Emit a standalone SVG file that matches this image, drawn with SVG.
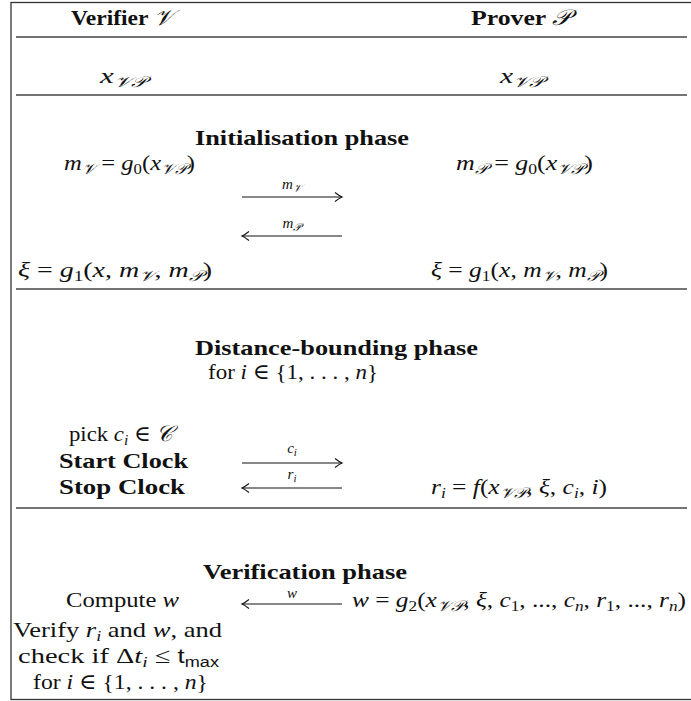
<svg xmlns="http://www.w3.org/2000/svg" width="691" height="701" viewBox="0 0 691 701">
<style>
text{font-family:"Liberation Serif","DejaVu Serif",serif;font-size:22px;fill:#111}
.b{font-weight:bold}
.i{font-style:italic}
.s{font-size:15px}
.lab{font-size:15px;font-style:italic;text-anchor:middle}
.sf{font-family:"Liberation Sans","DejaVu Sans",sans-serif;font-style:normal;font-size:20px}
.sfs{font-family:"Liberation Sans","DejaVu Sans",sans-serif;font-style:normal;font-size:14px}
.rule{stroke:#444;stroke-width:1.5}
.arr{stroke:#111;stroke-width:1;fill:none}
</style>
<defs>
<marker id="ah" markerUnits="userSpaceOnUse" markerWidth="14" markerHeight="14" viewBox="-10 -7 12 14" refX="0" refY="0" orient="auto-start-reverse">
<path d="M-7,-4.5 Q-2.5,-1 0,0 Q-2.5,1 -7,4.5" fill="none" stroke="#111" stroke-width="1.1"/>
</marker>
</defs>
<rect x="11" y="2.5" width="700" height="697" fill="none" stroke="#333" stroke-width="1.3"/>
<g id="rules">
<line class="rule" x1="16" y1="37" x2="687" y2="37"/>
<line class="rule" x1="16" y1="95" x2="687" y2="95"/>
<line class="rule" x1="16" y1="289" x2="687" y2="289"/>
<line class="rule" x1="16" y1="508" x2="687" y2="508"/>
</g>
<g id="verifier-header"><text class="b" x="71" y="25" textLength="102" lengthAdjust="spacingAndGlyphs">Verifier <tspan class="i" font-weight="normal">𝒱</tspan></text></g>
<g id="prover-header"><text class="b" x="471" y="25" textLength="100" lengthAdjust="spacingAndGlyphs">Prover <tspan class="i" font-weight="normal">𝒫</tspan></text></g>
<g id="verifier-key"><text x="100" y="83" textLength="46" lengthAdjust="spacingAndGlyphs"><tspan class="i">x</tspan><tspan class="s i" dy="4">𝒱𝒫</tspan></text></g>
<g id="prover-key"><text x="500" y="83" textLength="44" lengthAdjust="spacingAndGlyphs"><tspan class="i">x</tspan><tspan class="s i" dy="4">𝒱𝒫</tspan></text></g>
<g id="init-title"><text class="b" x="195" y="145" textLength="214" lengthAdjust="spacingAndGlyphs">Initialisation phase</text></g>
<g id="init-v"><text x="64" y="170" textLength="131" lengthAdjust="spacingAndGlyphs"><tspan class="i">m</tspan><tspan class="s i" dy="4">𝒱</tspan><tspan dy="-4"> = </tspan><tspan class="i">g</tspan><tspan class="s" dy="4">0</tspan><tspan dy="-4">(</tspan><tspan class="i">x</tspan><tspan class="s i" dy="4">𝒱𝒫</tspan><tspan dy="-4">)</tspan></text></g>
<g id="init-p"><text x="456" y="170" textLength="137" lengthAdjust="spacingAndGlyphs"><tspan class="i">m</tspan><tspan class="s i" dy="4">𝒫</tspan><tspan dy="-4"> = </tspan><tspan class="i">g</tspan><tspan class="s" dy="4">0</tspan><tspan dy="-4">(</tspan><tspan class="i">x</tspan><tspan class="s i" dy="4">𝒱𝒫</tspan><tspan dy="-4">)</tspan></text></g>
<g id="xi-v"><text x="18" y="277" textLength="194" lengthAdjust="spacingAndGlyphs"><tspan class="i">ξ</tspan> = <tspan class="i">g</tspan><tspan class="s" dy="4">1</tspan><tspan dy="-4">(</tspan><tspan class="i">x</tspan>, <tspan class="i">m</tspan><tspan class="s i" dy="4">𝒱</tspan><tspan dy="-4">, </tspan><tspan class="i">m</tspan><tspan class="s i" dy="4">𝒫</tspan><tspan dy="-4">)</tspan></text></g>
<g id="xi-p"><text x="431" y="277" textLength="177" lengthAdjust="spacingAndGlyphs"><tspan class="i">ξ</tspan> = <tspan class="i">g</tspan><tspan class="s" dy="4">1</tspan><tspan dy="-4">(</tspan><tspan class="i">x</tspan>, <tspan class="i">m</tspan><tspan class="s i" dy="4">𝒱</tspan><tspan dy="-4">, </tspan><tspan class="i">m</tspan><tspan class="s i" dy="4">𝒫</tspan><tspan dy="-4">)</tspan></text></g>
<g id="db-title"><text class="b" x="195" y="355" textLength="283" lengthAdjust="spacingAndGlyphs">Distance-bounding phase</text></g>
<g id="db-loop"><text x="208" y="379" textLength="170" lengthAdjust="spacingAndGlyphs">for <tspan class="i">i</tspan> ∈ {1, . . . , <tspan class="i">n</tspan>}</text></g>
<g id="pick"><text x="69" y="441" textLength="104" lengthAdjust="spacingAndGlyphs">pick <tspan class="i">c</tspan><tspan class="s i" dy="4">i</tspan><tspan dy="-4"> ∈ </tspan><tspan class="i">𝒞</tspan></text></g>
<g id="start-clock"><text class="b" x="59" y="468" textLength="129" lengthAdjust="spacingAndGlyphs">Start Clock</text></g>
<g id="stop-clock"><text class="b" x="59" y="494" textLength="126" lengthAdjust="spacingAndGlyphs">Stop Clock</text></g>
<g id="response"><text x="431" y="494" textLength="176" lengthAdjust="spacingAndGlyphs"><tspan class="i">r</tspan><tspan class="s i" dy="4">i</tspan><tspan dy="-4"> = </tspan><tspan class="i">f</tspan>(<tspan class="i">x</tspan><tspan class="s i" dy="4">𝒱𝒫</tspan><tspan dy="-4">, </tspan><tspan class="i">ξ</tspan>, <tspan class="i">c</tspan><tspan class="s i" dy="4">i</tspan><tspan dy="-4">, </tspan><tspan class="i">i</tspan>)</text></g>
<g id="ver-title"><text class="b" x="203" y="579" textLength="204" lengthAdjust="spacingAndGlyphs">Verification phase</text></g>
<g id="compute-w"><text x="66" y="607" textLength="113" lengthAdjust="spacingAndGlyphs">Compute <tspan class="i">w</tspan></text></g>
<g id="w-def"><text x="352" y="607" textLength="334" lengthAdjust="spacingAndGlyphs"><tspan class="i">w</tspan> = <tspan class="i">g</tspan><tspan class="s" dy="4">2</tspan><tspan dy="-4">(</tspan><tspan class="i">x</tspan><tspan class="s i" dy="4">𝒱𝒫</tspan><tspan dy="-4">, </tspan><tspan class="i">ξ</tspan>, <tspan class="i">c</tspan><tspan class="s" dy="4">1</tspan><tspan dy="-4">, ..., </tspan><tspan class="i">c</tspan><tspan class="s i" dy="4">n</tspan><tspan dy="-4">, </tspan><tspan class="i">r</tspan><tspan class="s" dy="4">1</tspan><tspan dy="-4">, ..., </tspan><tspan class="i">r</tspan><tspan class="s i" dy="4">n</tspan><tspan dy="-4">)</tspan></text></g>
<g id="verify">
<text x="13" y="637" textLength="209" lengthAdjust="spacingAndGlyphs">Verify <tspan class="i">r</tspan><tspan class="s i" dy="4">i</tspan><tspan dy="-4"> and </tspan><tspan class="i">w</tspan>, and</text>
<text x="18" y="663" textLength="201" lengthAdjust="spacingAndGlyphs">check if  Δ<tspan class="i">t</tspan><tspan class="s i" dy="4">i</tspan><tspan dy="-4"> ≤ </tspan><tspan class="sf">t</tspan><tspan class="sfs" dy="4">max</tspan></text>
<text x="33" y="689" textLength="175" lengthAdjust="spacingAndGlyphs">for <tspan class="i">i</tspan> ∈ {1, . . . , <tspan class="i">n</tspan>}</text>
</g>
<g id="connectors">
<line class="arr" x1="242" y1="197" x2="342" y2="197" marker-end="url(#ah)"/>
<text class="lab" x="292" y="189">m<tspan font-size="11" dy="3">𝒱</tspan></text>
<line class="arr" x1="342" y1="236" x2="242" y2="236" marker-end="url(#ah)"/>
<text class="lab" x="292" y="228">m<tspan font-size="11" dy="3">𝒫</tspan></text>
<line class="arr" x1="242" y1="463" x2="342" y2="463" marker-end="url(#ah)"/>
<text class="lab" x="292" y="453">c<tspan font-size="11" dy="3">i</tspan></text>
<line class="arr" x1="342" y1="488" x2="242" y2="488" marker-end="url(#ah)"/>
<text class="lab" x="292" y="479">r<tspan font-size="11" dy="3">i</tspan></text>
<line class="arr" x1="342" y1="604" x2="242" y2="604" marker-end="url(#ah)"/>
<text class="lab" x="292" y="598">w</text>
</g>
</svg>
